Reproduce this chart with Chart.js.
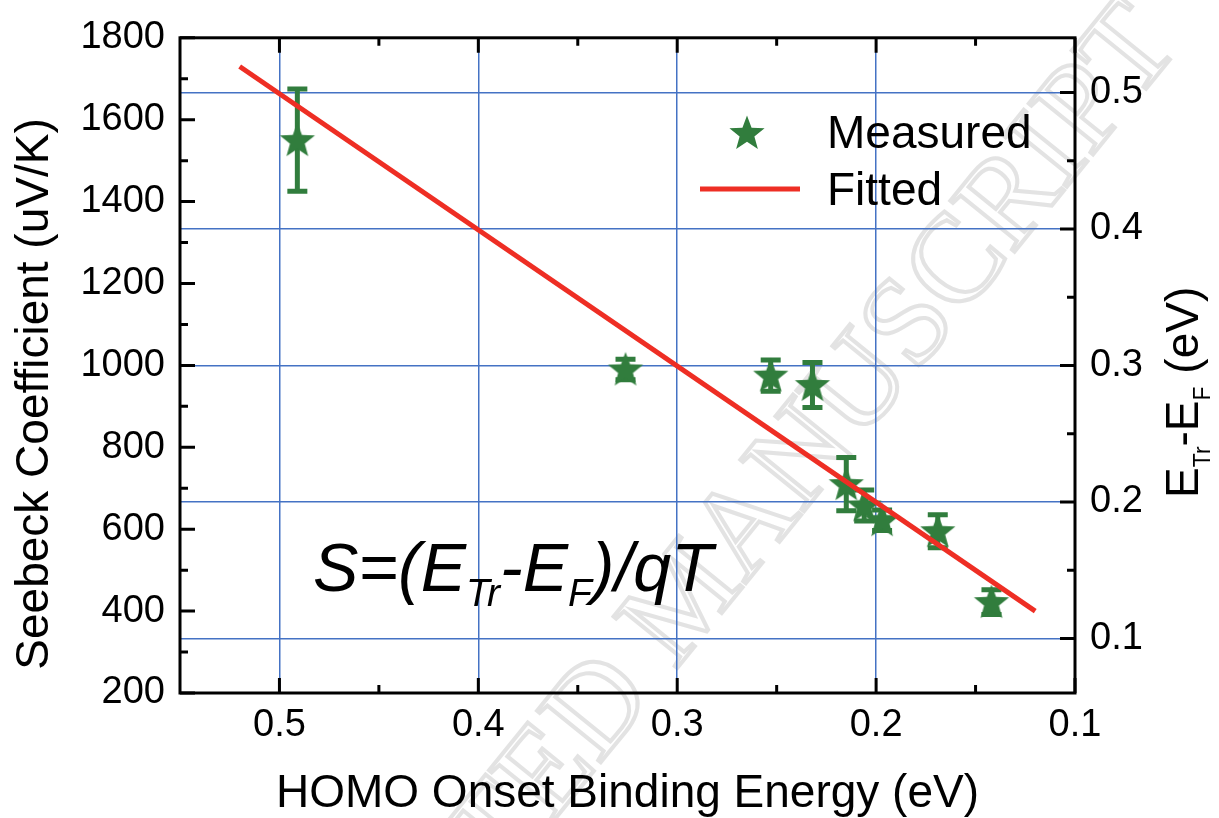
<!DOCTYPE html>
<html>
<head>
<meta charset="utf-8">
<script src="https://cdn.jsdelivr.net/npm/chart.js@4.4.1/dist/chart.umd.min.js"></script>
<style>
  html, body { margin: 0; padding: 0; background: #fff; }
  #wrap { width: 1219px; height: 818px; position: relative; }
</style>
</head>
<body>
<div id="wrap"><canvas id="myChart"></canvas></div>
<script>
// data
const binding    = [0.491, 0.326, 0.253, 0.232, 0.215, 0.206, 0.197, 0.169, 0.142];
const seebeck    = [1550, 990, 975, 952, 710, 658, 622, 595, 422];
const seebeckErr = [125, 25, 38, 55, 65, 38, 25, 40, 30];
const fitX = [0.52, 0.12];
const fitY = [1730, 400];

// axes
const xTicks = [0.5, 0.4, 0.3, 0.2, 0.1];
const xMinor = [0.45, 0.35, 0.25, 0.15];
const yTicks = [200, 400, 600, 800, 1000, 1200, 1400, 1600, 1800];
const yMinor = [300, 500, 700, 900, 1100, 1300, 1500, 1700];
const eTicks = [0.1, 0.2, 0.3, 0.4, 0.5];
const eMinor = [0.15, 0.25, 0.35, 0.45];
const T = 300; // E = S*T  (uV/K -> eV)

const GREEN = '#317d3d';
const RED = '#ee2e24';
const BLUE = '#4472c4';
const FONT = 'Liberation Sans, Arial, sans-serif';

// filled 5 point star marker
function makeStar(size, color) {
  const c = document.createElement('canvas');
  c.width = size; c.height = size;
  const g = c.getContext('2d');
  const R = size / 2 - 0.5, r = R * 0.42, cx = size / 2, cy = size / 2 + 1;
  g.beginPath();
  for (let i = 0; i < 10; i++) {
    const a = -Math.PI / 2 + i * Math.PI / 5;
    const rr = i % 2 ? r : R;
    g.lineTo(cx + rr * Math.cos(a), cy + rr * Math.sin(a));
  }
  g.closePath();
  g.fillStyle = color;
  g.fill();
  return c;
}
const star = makeStar(38, GREEN);

function drawRich(g, parts, x, y) {
  // parts: [text, font, dy]
  let cx = x;
  parts.forEach(p => {
    g.font = p[1];
    g.fillText(p[0], cx, y + p[2]);
    cx += g.measureText(p[0]).width;
  });
}

const extras = {
  id: 'extras',
  beforeDraw(c) {
    const g = c.ctx;
    g.save();
    g.fillStyle = '#fff';
    g.fillRect(0, 0, c.width, c.height);
    // faint watermark
    g.translate(690, 600);
    g.rotate(-51 * Math.PI / 180);
    g.font = '125px Liberation Serif, serif';
    g.textAlign = 'center';
    g.textBaseline = 'middle';
    g.strokeStyle = '#e3e3e3';
    g.lineWidth = 4;
    g.strokeText('ACCEPTED MANUSCRIPT', 0, 0);
    g.restore();
  },
  beforeDatasetsDraw(c) {
    const g = c.ctx, xs = c.scales.x, ys = c.scales.y;
    g.save();
    g.strokeStyle = GREEN;
    g.lineWidth = 5;
    binding.forEach((b, i) => {
      const px = xs.getPixelForValue(b);
      const t = ys.getPixelForValue(seebeck[i] + seebeckErr[i]);
      const bt = ys.getPixelForValue(seebeck[i] - seebeckErr[i]);
      g.beginPath();
      g.moveTo(px, t); g.lineTo(px, bt);
      g.moveTo(px - 10, t); g.lineTo(px + 10, t);
      g.moveTo(px - 10, bt); g.lineTo(px + 10, bt);
      g.stroke();
    });
    g.restore();
  },
  afterDraw(c) {
    const g = c.ctx, a = c.chartArea;
    const xs = c.scales.x, ys = c.scales.y, es = c.scales.y2;
    g.save();
    // frame
    g.strokeStyle = '#000';
    g.lineWidth = 3;
    g.strokeRect(a.left, a.top, a.right - a.left, a.bottom - a.top);
    // inward ticks
    g.beginPath();
    const tk = (list, len, fn) => list.forEach(v => fn(v, len));
    const xt = (v, len) => {
      const p = xs.getPixelForValue(v);
      g.moveTo(p, a.bottom); g.lineTo(p, a.bottom - len);
      g.moveTo(p, a.top); g.lineTo(p, a.top + len);
    };
    const yt = (v, len) => {
      const p = ys.getPixelForValue(v);
      g.moveTo(a.left, p); g.lineTo(a.left + len, p);
    };
    const et = (v, len) => {
      const p = es.getPixelForValue(v);
      g.moveTo(a.right, p); g.lineTo(a.right - len, p);
    };
    tk(xTicks, 15, xt); tk(xMinor, 8, xt);
    tk(yTicks, 15, yt); tk(yMinor, 8, yt);
    tk(eTicks, 15, et); tk(eMinor, 8, et);
    g.stroke();

    g.fillStyle = '#000';
    // axis titles
    g.font = '46px ' + FONT;
    g.textAlign = 'center';
    g.textBaseline = 'alphabetic';
    g.fillText('HOMO Onset Binding Energy (eV)', (a.left + a.right) / 2, 807);
    g.save();
    g.translate(48, 394);
    g.rotate(-Math.PI / 2);
    g.fillText('Seebeck Coefficient (uV/K)', 0, 0);
    g.restore();

    g.save();
    g.translate(1198, 498);
    g.rotate(-Math.PI / 2);
    g.textAlign = 'left';
    const big = '46px ' + FONT, sub = '23px ' + FONT;
    drawRich(g, [['E', big, 0], ['Tr', sub, 12], ['-E', big, 0], ['F', sub, 12], [' (eV)', big, 0]], 0, 0);
    g.restore();

    // equation
    g.textAlign = 'left';
    const ib = 'italic 68px ' + FONT, is = 'italic 39px ' + FONT;
    drawRich(g, [['S=(E', ib, 0], ['Tr', is, 15], ['-E', ib, 0], ['F', is, 15], [')/qT', ib, 0]], 313, 591);

    // legend
    g.drawImage(star, 747 - star.width / 2, 133 - star.height / 2);
    g.font = '46px ' + FONT;
    g.fillText('Measured', 827, 148);
    g.fillText('Fitted', 827, 205);
    g.strokeStyle = RED;
    g.lineWidth = 5;
    g.beginPath();
    g.moveTo(700, 189); g.lineTo(800, 189);
    g.stroke();
    g.restore();
  }
};

const tickFont = { family: FONT, size: 38 };

new Chart(document.getElementById('myChart'), {
  type: 'scatter',
  data: {
    datasets: [
      {
        label: 'Fitted',
        type: 'line',
        data: fitX.map((x, i) => ({ x: x, y: fitY[i] })),
        borderColor: RED,
        borderWidth: 5,
        pointRadius: 0,
        fill: false,
        order: 0
      },
      {
        label: 'Measured',
        data: binding.map((x, i) => ({ x: x, y: seebeck[i] })),
        pointStyle: star,
        pointRadius: 18,
        backgroundColor: GREEN,
        order: 1
      }
    ]
  },
  options: {
    responsive: true,
    maintainAspectRatio: false,
    devicePixelRatio: 1,
    animation: false,
    layout: { padding: { top: 35, left: 0, right: 0, bottom: 0 } },
    plugins: { legend: { display: false }, tooltip: { enabled: false } },
    scales: {
      x: {
        type: 'linear',
        position: 'bottom',
        reverse: true,
        min: 0.1,
        max: 0.55,
        afterBuildTicks: s => { s.ticks = xTicks.map(v => ({ value: v })); },
        afterFit: s => { s.height = 125; },
        grid: { color: BLUE, lineWidth: 1.5, drawTicks: false },
        border: { display: false },
        ticks: { font: tickFont, color: '#000', padding: 10, maxRotation: 0,
                 callback: v => v.toFixed(1) }
      },
      y: {
        type: 'linear',
        position: 'left',
        min: 200,
        max: 1800,
        afterBuildTicks: s => { s.ticks = yTicks.map(v => ({ value: v })); },
        afterFit: s => { s.width = 180; },
        grid: { display: false, drawTicks: false },
        border: { display: false },
        ticks: { font: tickFont, color: '#000', padding: 15,
                 callback: v => String(v) }
      },
      y2: {
        type: 'linear',
        position: 'right',
        min: 200 * T / 1e6,
        max: 1800 * T / 1e6,
        afterBuildTicks: s => { s.ticks = eTicks.map(v => ({ value: v })); },
        afterFit: s => { s.width = 144; },
        grid: { color: BLUE, lineWidth: 1.5, drawTicks: false },
        border: { display: false },
        ticks: { font: tickFont, color: '#000', padding: 15,
                 callback: v => v.toFixed(1) }
      }
    }
  },
  plugins: [extras]
});
</script>
</body>
</html>
